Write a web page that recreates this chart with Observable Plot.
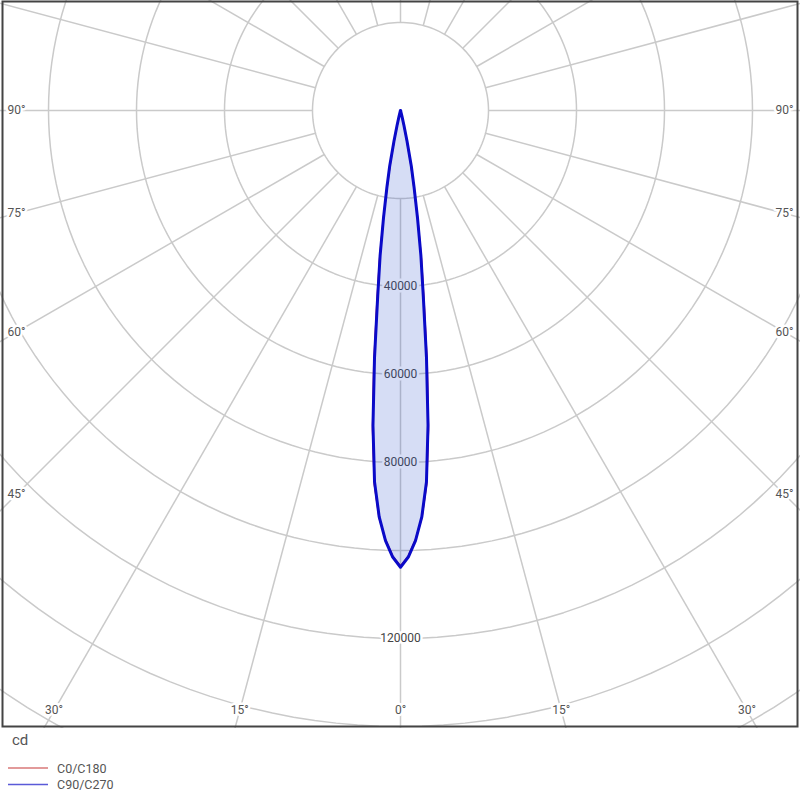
<!DOCTYPE html>
<html>
<head>
<meta charset="utf-8">
<script src="https://cdn.jsdelivr.net/npm/d3@7"></script>
<script src="https://cdn.jsdelivr.net/npm/@observablehq/plot@0.6"></script>
<style>
  body { margin: 0; background: #fff; font-family: Roboto, "Open Sans", sans-serif; }
  #wrap { position: relative; width: 800px; height: 800px; }
  #legend { position: absolute; left: 0; top: 728px; }
</style>
</head>
<body>
<div id="wrap"><div id="chart"></div><svg id="legend" width="800" height="72"></svg></div>
<script>
// ---- data ----
const gammas   = [0, 1, 2, 3, 4, 5, 6, 7, 8, 9, 10, 11, 12, 13, 14, 15, 20, 30, 40, 50, 60, 70, 80, 90];
const c0c180   = [103500, 101300, 97600, 92700, 85200, 72800, 58000, 44000, 34200, 25000, 17400, 11800, 6300, 3000, 1300, 500, 150, 80, 40, 20, 10, 5, 0, 0];
const c90c270  = [103800, 101500, 97800, 92500, 84600, 71800, 56500, 42500, 33300, 24700, 17900, 12900, 7200, 3500, 1500, 500, 150, 80, 40, 20, 10, 5, 0, 0];
const seriesNames  = ["C0/C180", "C90/C270"];
const ringValues   = [20000, 40000, 60000, 80000, 100000, 120000, 140000, 160000, 180000];
const ringLabels   = [40000, 60000, 80000, 120000];
const angleTicks   = [0, 15, 30, 45, 60, 75, 90];
const unitLabel    = "cd";

// ---- layout ----
const W = 800, H = 728, cx = 400, cy = 110;
const k = 88 / 20000; // px per cd
const rad = d => d * Math.PI / 180;

function curve(values, name) {
  const pts = [];
  // left half (C180 / C270): from 90 down to 0
  for (let i = gammas.length - 1; i >= 0; i--) {
    const g = rad(gammas[i]);
    pts.push({series: name, x: -values[i] * Math.sin(g), y: values[i] * Math.cos(g)});
  }
  // right half (C0 / C90): from 0 up to 90
  for (let i = 1; i < gammas.length; i++) {
    const g = rad(gammas[i]);
    pts.push({series: name, x: values[i] * Math.sin(g), y: values[i] * Math.cos(g)});
  }
  return pts;
}
const redPts = curve(c0c180, seriesNames[0]);
const bluePts = curve(c90c270, seriesNames[1]);

const ringPts = [];
for (const R of ringValues) {
  for (let a = 0; a <= 360; a += 2) ringPts.push({ring: R, x: R * Math.sin(rad(a)), y: R * Math.cos(rad(a))});
}
const spokes = d3.range(0, 360, 15).map(a => ({
  x1: ringValues[0] * Math.sin(rad(a)), y1: ringValues[0] * Math.cos(rad(a)),
  x2: 250000 * Math.sin(rad(a)), y2: 250000 * Math.cos(rad(a))
}));

const angleLabelData = [];
for (const t of angleTicks) {
  for (const side of (t === 0 ? [1] : [-1, 1])) {
    let xp, yp;
    if (t >= 45) { xp = side * 384; yp = 384 / Math.tan(rad(t)); if (t === 90) yp = 0; }
    else { yp = 600; xp = side * 600 * Math.tan(rad(t)); }
    angleLabelData.push({label: `${t}°`, x: xp / k, y: yp / k});
  }
}

const chart = Plot.plot({
  width: W, height: H,
  marginTop: 0, marginRight: 0, marginBottom: 0, marginLeft: 0,
  style: {fontFamily: "Roboto, 'Open Sans', sans-serif", background: "#fff"},
  x: {type: "linear", domain: [-cx / k, (W - cx) / k], range: [0, W], axis: null},
  y: {type: "linear", domain: [-cy / k, (H - cy) / k], range: [0, H], axis: null},
  marks: [
    Plot.line(ringPts, {x: "x", y: "y", z: "ring", stroke: "#cacaca", strokeWidth: 1.5, clip: true}),
    Plot.link(spokes, {x1: "x1", y1: "y1", x2: "x2", y2: "y2", stroke: "#cacaca", strokeWidth: 1.5, clip: true}),
    Plot.text(ringLabels, {x: () => 0, y: d => d, text: d => String(d), fill: "#444", stroke: "white", strokeWidth: 5, paintOrder: "stroke", fontSize: 12}),
    Plot.text(angleLabelData, {x: "x", y: "y", text: "label", fill: "#555", stroke: "white", strokeWidth: 5, paintOrder: "stroke", fontSize: 12}),
    Plot.line(bluePts, {x: "x", y: "y", fill: "#3355cc", fillOpacity: 0.2, stroke: "none"}),
    Plot.line(redPts, {x: "x", y: "y", stroke: "#e01030", strokeWidth: 1.6}),
    Plot.line(bluePts, {x: "x", y: "y", stroke: "#0a0ac8", strokeWidth: 3, strokeLinejoin: "round"}),
    Plot.frame({stroke: "#444", strokeWidth: 2, insetLeft: 2, insetTop: 1, insetRight: 3, insetBottom: 2})
  ]
});
document.getElementById("chart").appendChild(chart);

// legend
const leg = d3.select("#legend");
leg.append("text").attr("x", 12).attr("y", 17).attr("fill", "#555")
  .style("font-family", "Roboto, 'Open Sans', sans-serif").style("font-size", "15px").text(unitLabel);
const legColors = ["#d87878", "#5a5ad8"];
seriesNames.forEach((name, i) => {
  const y = 40 + i * 16.5;
  leg.append("line").attr("x1", 8).attr("x2", 48).attr("y1", y).attr("y2", y)
    .attr("stroke", legColors[i]).attr("stroke-width", 1.5);
  leg.append("text").attr("x", 57).attr("y", y + 4.5).attr("fill", "#555")
    .style("font-family", "Roboto, 'Open Sans', sans-serif").style("font-size", "12.5px").text(name);
});
</script>
</body>
</html>
